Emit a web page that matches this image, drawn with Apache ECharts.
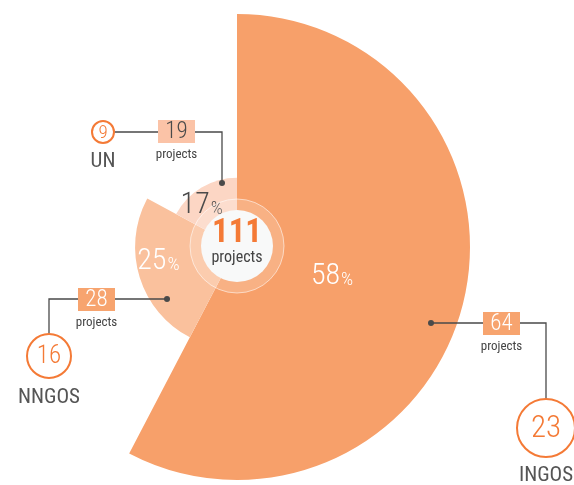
<!DOCTYPE html>
<html>
<head>
<meta charset="utf-8">
<script src="https://cdn.jsdelivr.net/npm/echarts@6/dist/echarts.min.js"></script>
<style>
  html, body { margin: 0; padding: 0; background: #fff; }
  #rose { width: 574px; height: 485px; }
</style>
</head>
<body>
<div id="rose"></div>
<script>
const categories = ["INGOS", "NNGOS", "UN"];
const projects = [64, 28, 19];
const organisations = [23, 16, 9];
const shares = [58, 25, 17];
const totalProjects = 111;

const font = "Roboto, sans-serif";
const sliceColors = ["#f7a06a", "#fac19d", "#fcd6c4"];
const pctColors = ["#fff", "#fff", "#4a4a4a"];
const labelOffsets = [[-21, 1], [-27, -1], [-16, -9]];
const orange = "#f47a36";

let rose = echarts.init(document.getElementById("rose"));

// callout layout: dot, elbow, box, circle, name
const callouts = [
  { dot: [431, 323], elbow: [546, 323], box: [483, 312], boxFill: "#f7a46f", numFill: "#fff", circle: [546, 428], r: 29, size: 31, name: [546, 476] },
  { dot: [167, 299], elbow: [49, 299], box: [78, 288], boxFill: "#f7a46f", numFill: "#fff", circle: [49, 356], r: 22, size: 25, name: [49, 398] },
  { dot: [222, 183], elbow: [222, 132], box: [158, 120], boxFill: "#fbc3a7", numFill: "#4a4a4a", circle: [103, 132], r: 11, size: 19, name: [103, 162] }
];

let graphics = [
  { type: "circle", z: 10, shape: { cx: 237, cy: 246, r: 47 }, style: { fill: "rgba(255,255,255,0.18)", stroke: "rgba(255,255,255,0.55)", lineWidth: 1 } },
  { type: "circle", z: 11, shape: { cx: 237, cy: 246, r: 36 }, style: { fill: "#f8f9f9" } },
  { type: "text", z: 12, x: 237, y: 234, style: { text: String(totalProjects), font: "bold condensed 33px " + font, fill: orange, textAlign: "center", textVerticalAlign: "middle" } },
  { type: "text", z: 12, x: 237, y: 258, style: { text: "projects", font: "condensed 16px " + font, fill: "#444", textAlign: "center", textVerticalAlign: "middle" } }
];

callouts.forEach(function(c, i) {
  let end = i === 2 ? [c.circle[0] + c.r, c.circle[1]] : [c.circle[0], c.circle[1] - c.r];
  graphics.push(
    { type: "polyline", z: 10, shape: { points: [c.dot, c.elbow, end] }, style: { stroke: "#4a4a4a", lineWidth: 1.3, fill: null } },
    { type: "circle", z: 11, shape: { cx: c.dot[0], cy: c.dot[1], r: 3 }, style: { fill: "#4a4a4a" } },
    { type: "rect", z: 11, shape: { x: c.box[0], y: c.box[1], width: 37, height: 23 }, style: { fill: c.boxFill } },
    { type: "text", z: 12, x: c.box[0] + 18.5, y: c.box[1] + 12, style: { text: String(projects[i]), font: "300 condensed 23px " + font, fill: c.numFill, textAlign: "center", textVerticalAlign: "middle" } },
    { type: "text", z: 12, x: c.box[0] + 18.5, y: c.box[1] + 35, style: { text: "projects", font: "condensed 13px " + font, fill: "#444", textAlign: "center", textVerticalAlign: "middle" } },
    { type: "circle", z: 11, shape: { cx: c.circle[0], cy: c.circle[1], r: c.r }, style: { fill: "#fff", stroke: orange, lineWidth: 2 } },
    { type: "text", z: 12, x: c.circle[0], y: c.circle[1] + 1, style: { text: String(organisations[i]), font: "300 condensed " + c.size + "px " + font, fill: orange, textAlign: "center", textVerticalAlign: "middle" } },
    { type: "text", z: 12, x: c.name[0], y: c.name[1], style: { text: categories[i], font: "condensed 21px " + font, fill: "#555", textAlign: "center", textVerticalAlign: "middle" } }
  );
});

let optionRose = {
  animation: false,
  series: [
    {
      type: "pie",
      roseType: "radius",
      center: [237, 247],
      radius: [0, 233],
      startAngle: 90,
      clockwise: true,
      silent: true,
      label: {
        show: true,
        position: "inside"
      },
      labelLine: { show: false },
      data: categories.map(function(name, i) {
        return {
          name: name,
          value: projects[i],
          itemStyle: { color: sliceColors[i] },
          label: {
            offset: labelOffsets[i],
            formatter: "{n|" + shares[i] + "}{p|%}",
            rich: {
              n: { fontFamily: font, fontWeight: "300 condensed", fontSize: 30, color: pctColors[i], verticalAlign: "bottom" },
              p: { fontFamily: font, fontWeight: "300 condensed", fontSize: 19, color: pctColors[i], verticalAlign: "bottom", padding: [0, 0, 2, 1] }
            }
          }
        };
      })
    }
  ],
  graphic: graphics
};
rose.setOption(optionRose);
</script>
</body>
</html>
